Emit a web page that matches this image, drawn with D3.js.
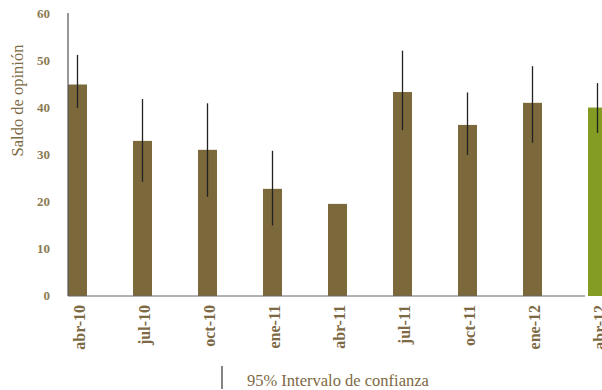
<!DOCTYPE html>
<html>
<head>
<meta charset="utf-8">
<script src="https://cdn.jsdelivr.net/npm/d3@7"></script>
<style>
  html, body { margin: 0; padding: 0; background: #fff; }
  svg { display: block; }
</style>
</head>
<body>
<svg id="chart" width="602" height="390"></svg>
<script>
// Quarterly opinion balance with 95% confidence intervals
const categories = ["abr-10", "jul-10", "oct-10", "ene-11", "abr-11", "jul-11", "oct-11", "ene-12", "abr-12"];
const values     = [45.0, 33.0, 31.1, 22.8, 19.6, 43.4, 36.4, 41.1, 40.1];
const ciLow      = [40.0, 24.3, 21.1, 15.0, null, 35.3, 30.0, 32.6, 34.7];
const ciHigh     = [51.3, 41.9, 41.0, 30.9, null, 52.2, 43.3, 48.9, 45.3];
const yTicks     = [0, 10, 20, 30, 40, 50, 60];

const brown = "#7c693b";
const green = "#849c24";
const textColor = "#7d6a45";
const serif = "'Liberation Serif', 'Times New Roman', serif";

const svg = d3.select("#chart");

const x = d3.scaleBand()
  .domain(categories)
  .range([45, 630])
  .paddingInner(0.708)
  .paddingOuter(0.354);

const y = d3.scaleLinear()
  .domain([0, 60])
  .range([296, 14]);

const data = categories.map((c, i) => ({
  cat: c, value: values[i], lo: ciLow[i], hi: ciHigh[i], last: i === categories.length - 1
}));

// Bars
svg.append("g").selectAll("rect")
  .data(data)
  .join("rect")
  .attr("x", d => x(d.cat))
  .attr("y", d => y(d.value))
  .attr("width", x.bandwidth())
  .attr("height", d => y(0) - y(d.value))
  .attr("fill", d => d.last ? green : brown);

// Axis lines
svg.append("line")
  .attr("x1", x(categories[0])).attr("x2", x(categories[0]))
  .attr("y1", y(60) - 1).attr("y2", y(0))
  .attr("stroke", "#555").attr("stroke-width", 1.2);
svg.append("line")
  .attr("x1", x(categories[0])).attr("x2", 585)
  .attr("y1", y(0)).attr("y2", y(0))
  .attr("stroke", "#666").attr("stroke-width", 1.2);

// Error bars
svg.append("g").selectAll("line")
  .data(data.filter(d => d.lo != null))
  .join("line")
  .attr("x1", d => x(d.cat) + x.bandwidth() / 2)
  .attr("x2", d => x(d.cat) + x.bandwidth() / 2)
  .attr("y1", d => y(d.hi))
  .attr("y2", d => y(d.lo))
  .attr("stroke", "#222")
  .attr("stroke-width", 1.3);

// Y tick labels
svg.append("g").selectAll("text")
  .data(yTicks)
  .join("text")
  .attr("x", 50)
  .attr("y", d => y(d))
  .attr("dy", "0.32em")
  .attr("text-anchor", "end")
  .attr("font-family", serif)
  .attr("font-weight", "bold")
  .attr("font-size", 13)
  .attr("fill", "#8a7a52")
  .text(d => d);

// X category labels (rotated)
svg.append("g").selectAll("text")
  .data(categories)
  .join("text")
  .attr("transform", d => `translate(${x(d) + x.bandwidth() / 2 + 2},305) rotate(-90)`)
  .attr("dy", "0.35em")
  .attr("text-anchor", "end")
  .attr("font-family", serif)
  .attr("font-weight", "bold")
  .attr("font-size", 16)
  .attr("fill", textColor)
  .text(d => d);

// Y axis title
svg.append("text")
  .attr("transform", "translate(17,100.5) rotate(-90)")
  .attr("dy", "0.35em")
  .attr("text-anchor", "middle")
  .attr("font-family", serif)
  .attr("font-size", 16.5)
  .attr("fill", textColor)
  .text("Saldo de opinión");

// Legend
svg.append("line")
  .attr("x1", 222).attr("x2", 222)
  .attr("y1", 366).attr("y2", 389)
  .attr("stroke", "#333").attr("stroke-width", 1.2);
svg.append("text")
  .attr("x", 247).attr("y", 380)
  .attr("dy", "0.35em")
  .attr("font-family", serif)
  .attr("font-size", 16.5)
  .attr("fill", textColor)
  .text("95% Intervalo de confianza");
</script>
</body>
</html>
